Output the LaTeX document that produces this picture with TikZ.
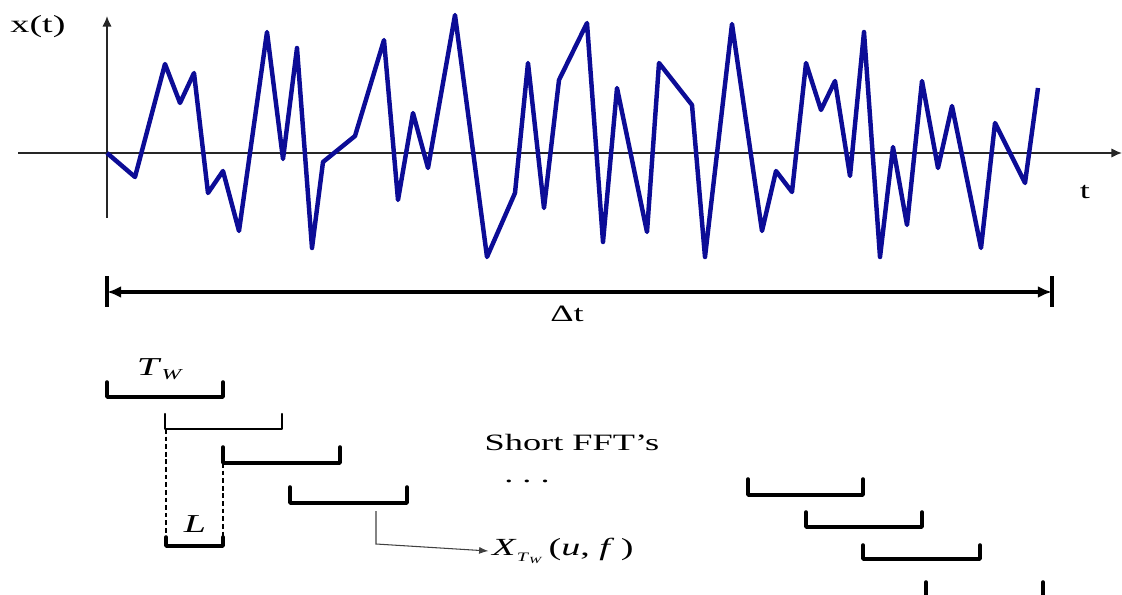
\documentclass[tikz,border=0pt]{standalone}
\usepackage{fontspec}
\setmainfont{Liberation Serif}
\usetikzlibrary{arrows.meta}
\definecolor{wave}{RGB}{12,12,150}
\newcommand{\wide}[1]{\scalebox{1.55}[1]{#1}}
\tikzset{
  axis/.style={line width=1.5pt, black!85},
  signal/.style={line width=3.8pt, wave, line join=round},
  bracketbox/.style={line width=3pt, line cap=round, line join=round},
  thinbracket/.style={line width=2pt, line cap=round, line join=round},
  guide/.style={line width=1.1pt, dash pattern=on 4pt off 2.5pt},
  lbl/.style={inner sep=0pt, font=\fontsize{20}{24}\selectfont},
}
\begin{document}
\begin{tikzpicture}[x=0.03cm, y=-0.03cm]
\useasboundingbox (0,0) rectangle (1122,595);
% axes
\draw[axis, -{Latex[length=9pt,width=8pt]}] (18,153) -- (1122,153);
\draw[axis, -{Latex[length=9pt,width=8pt]}] (107,218) -- (107,16);
\node[lbl] (xt) at (38,27) {\wide{\fontsize{21}{24}\selectfont x(t)}};
\node[lbl] (tl) at (1085,192) {\wide{t}};
% signal
\draw[signal] (107,153) -- (135,177) -- (165,64) -- (180,103) -- (194,73) -- (208,193) -- (223,171) -- (239,231) -- (267,32) -- (283,159) -- (297,48) -- (312,248) -- (323,162) -- (355,136) -- (384,40) -- (398,200) -- (413,113) -- (428,168) -- (455,15) -- (487,257) -- (515,193) -- (528,63) -- (544,208) -- (559,80) -- (587,23) -- (603,242) -- (617,88) -- (647,232) -- (659,63) -- (692,105) -- (705,257) -- (732,24) -- (762,231) -- (776,171) -- (792,192) -- (806,63) -- (821,110) -- (835,81) -- (850,176) -- (864,32) -- (880,257) -- (893,147) -- (907,225) -- (922,81) -- (938,168) -- (952,106) -- (981,248) -- (995,123) -- (1025,183) -- (1038,88);
% Delta t span
\coordinate (dl) at (107,292);
\coordinate (dr) at (1052,292);
\draw[line width=2.8pt] (107,276) -- (107,307);
\draw[line width=2.8pt] (1052,276) -- (1052,307);
\draw[line width=2.8pt, {Latex[length=12pt,width=10pt]}-{Latex[length=12pt,width=10pt]}] (dl) -- (dr);
\node[lbl] (dt) at (567,314) {\wide{Δt}};
% windows
\draw[bracketbox] (107,382) -- (107,397) -- (223,397) -- (223,382);
\node[lbl] (tw) at (160,369) {\wide{\fontsize{22}{24}\selectfont\textit{T}\raisebox{-0.35ex}{\fontsize{13}{14}\selectfont\textit{W}}}};
\draw[thinbracket] (165,414) -- (165,429) -- (282,429) -- (282,414);
\draw[bracketbox] (223,447) -- (223,463) -- (340,463) -- (340,447);
\draw[bracketbox] (290,487) -- (290,503) -- (407,503) -- (407,487);
% L spacing
\draw[guide] (166,429) -- (166,538);
\draw[guide] (223,463) -- (223,538);
\draw[bracketbox] (166,537) -- (166,546) -- (223,546) -- (223,537);
\node[lbl] (ll) at (195,524) {\wide{\fontsize{22}{24}\selectfont\textit{L}}};
% labels
\node[lbl] (sf) at (572,442) {\wide{Short FFT's}};
\node[lbl] (dots) at (527,481) {\wide{.\hspace{0.25em}.\hspace{0.25em}.}};
\node[lbl, anchor=west] (xl) at (492,551) {\wide{\fontsize{21}{24}\selectfont\textit{X}\raisebox{-0.5ex}{\fontsize{11}{12}\selectfont\textit{T}\raisebox{-0.3ex}{\fontsize{8}{9}\selectfont\textit{W}}}\,(\textit{u}, \textit{f}\,)}};
\coordinate (a0) at (376,511);
\draw[line width=0.9pt, black!75, -{Latex[length=8pt,width=6pt]}] (a0) -- (376,544) -- ([xshift=-3pt]xl.west);
% later windows
\draw[bracketbox] (748,479) -- (748,495) -- (863,495) -- (863,479);
\draw[bracketbox] (806,512) -- (806,527) -- (922,527) -- (922,512);
\draw[bracketbox] (863,545) -- (863,559) -- (980,559) -- (980,545);
\draw[bracketbox] (926,582) -- (926,600);
\draw[bracketbox] (1043,582) -- (1043,600);
\end{tikzpicture}
\end{document}
